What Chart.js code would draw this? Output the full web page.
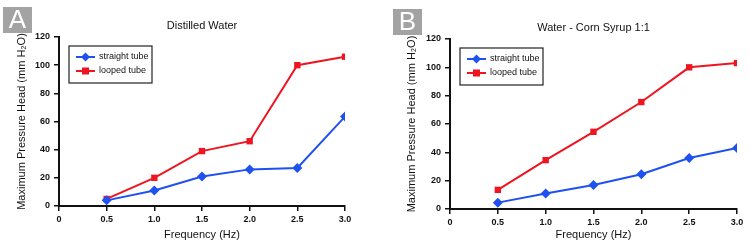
<!DOCTYPE html>
<html>
<head>
<meta charset="utf-8">
<script src="https://cdn.jsdelivr.net/npm/chart.js@4"></script>
<style>
  body { margin: 0; background: #fff; width: 750px; height: 248px; position: relative; overflow: hidden; }
  .box { position: absolute; top: 0; width: 375px; height: 248px; }
  #boxA { left: 0; }
  #boxB { left: 375px; }
</style>
</head>
<body>
<div class="box" id="boxA"><canvas id="chartA"></canvas></div>
<div class="box" id="boxB"><canvas id="chartB"></canvas></div>
<script>
// frequency (Hz)
const freq = [0.5, 1.0, 1.5, 2.0, 2.5, 3.0];
const xTicks = [0, 0.5, 1.0, 1.5, 2.0, 2.5, 3.0];
const yTicks = [0, 20, 40, 60, 80, 100, 120];

// A - distilled water
const straightA = [4, 11, 21, 26, 27, 63.5];
const loopedA = [5, 20, 39, 46, 100, 106];

// B - water / corn syrup 1:1
const straightB = [4.5, 11, 17, 24.5, 36, 43];
const loopedB = [13.5, 34.5, 54.5, 75.5, 100, 103];

const BLUE = "#1f50f0";
const RED = "#ee1520";
const FONT = "'Liberation Sans', Arial, Helvetica, sans-serif";

// draws the panel letter, the title and the boxed legend
const extras = {
    id: "extras",
    afterDraw(chart, args, opts) {
        const ctx = chart.ctx;
        const ca = chart.chartArea;
        ctx.save();

        // panel letter
        ctx.fillStyle = "#a3a3a3";
        ctx.fillRect(opts.letterX, opts.letterY, 29, 26);
        ctx.fillStyle = "#fff";
        ctx.font = "26px " + FONT;
        ctx.textAlign = "center";
        ctx.textBaseline = "middle";
        ctx.fillText(opts.letter, opts.letterX + 14.5, opts.letterY + 14);

        // title
        ctx.fillStyle = "#111";
        ctx.font = "11px " + FONT;
        ctx.textBaseline = "middle";
        ctx.fillText(opts.title, (ca.left + ca.right) / 2 + opts.titleShift, ca.top - 11);

        // legend
        const lx = ca.left + 10, ly = ca.top + 9, lw = 83, lh = 37;
        ctx.strokeStyle = "#222";
        ctx.lineWidth = 1.2;
        ctx.strokeRect(lx, ly, lw, lh);
        ctx.font = "9px " + FONT;
        ctx.textAlign = "left";
        chart.data.datasets.forEach((ds, i) => {
            const y = ly + 11 + i * 14;
            ctx.strokeStyle = ds.borderColor;
            ctx.lineWidth = 2;
            ctx.beginPath();
            ctx.moveTo(lx + 7, y);
            ctx.lineTo(lx + 26, y);
            ctx.stroke();
            ctx.fillStyle = ds.borderColor;
            if (ds.pointStyle === "rectRot") {
                ctx.beginPath();
                ctx.moveTo(lx + 16.5, y - 4.5);
                ctx.lineTo(lx + 21, y);
                ctx.lineTo(lx + 16.5, y + 4.5);
                ctx.lineTo(lx + 12, y);
                ctx.closePath();
                ctx.fill();
            } else {
                ctx.fillRect(lx + 13, y - 3.5, 7, 7);
            }
            ctx.fillStyle = "#111";
            ctx.fillText(ds.label, lx + 30, y);
        });
        ctx.restore();
    }
};

function makeChart(id, straight, looped, o) {
    const toXY = arr => arr.map((v, i) => ({ x: freq[i], y: v }));
    return new Chart(document.getElementById(id), {
        type: "line",
        data: {
            datasets: [
                {
                    label: "straight tube",
                    data: toXY(straight),
                    borderColor: BLUE,
                    backgroundColor: BLUE,
                    borderWidth: 2,
                    pointStyle: "rectRot",
                    pointRadius: 5,
                    pointBorderWidth: 0,
                    tension: 0
                },
                {
                    label: "looped tube",
                    data: toXY(looped),
                    borderColor: RED,
                    backgroundColor: RED,
                    borderWidth: 2,
                    pointStyle: "rect",
                    pointRadius: 4.5,
                    pointBorderWidth: 0,
                    tension: 0
                }
            ]
        },
        options: {
            responsive: false,
            animation: false,
            devicePixelRatio: 1,
            layout: { padding: { left: 0, right: o.right, top: o.top, bottom: 0 } },
            plugins: {
                legend: { display: false },
                tooltip: { enabled: false },
                title: { display: false },
                extras: o
            },
            scales: {
                x: {
                    type: "linear",
                    min: 0,
                    max: 3,
                    afterBuildTicks: s => { s.ticks = xTicks.map(v => ({ value: v })); },
                    afterFit: s => { s.height = o.xHeight; },
                    grid: { display: true, drawOnChartArea: false, drawTicks: true, tickLength: 5, color: "#111", lineWidth: 1.5 },
                    border: { display: true, color: "#111", width: 2 },
                    ticks: {
                        color: "#111",
                        font: { family: FONT, size: 9, weight: "bold" },
                        padding: 3,
                        maxRotation: 0,
                        callback: v => v === 0 ? "0" : v.toFixed(1)
                    },
                    title: {
                        display: true,
                        text: "Frequency (Hz)",
                        color: "#111",
                        font: { family: FONT, size: 11 },
                        padding: { top: 0, bottom: 6 }
                    }
                },
                y: {
                    min: 0,
                    max: 120,
                    afterBuildTicks: s => { s.ticks = yTicks.map(v => ({ value: v })); },
                    afterFit: s => { s.width = o.yWidth; },
                    grid: { display: true, drawOnChartArea: false, drawTicks: true, tickLength: 5, color: "#111", lineWidth: 1.5 },
                    border: { display: true, color: "#111", width: 2 },
                    ticks: {
                        color: "#111",
                        font: { family: FONT, size: 9, weight: "bold" },
                        padding: 4
                    },
                    title: {
                        display: true,
                        text: "Maximum Pressure Head (mm H₂O)",
                        color: "#111",
                        font: { family: FONT, size: 11 },
                        padding: { top: o.yTitlePad, bottom: 0 }
                    }
                }
            }
        },
        plugins: [extras]
    });
}

document.getElementById("chartA").width = 375;
document.getElementById("chartA").height = 248;
document.getElementById("chartB").width = 375;
document.getElementById("chartB").height = 248;

makeChart("chartA", straightA, loopedA, {
    letter: "A", letterX: 3, letterY: 7, title: "Distilled Water", titleShift: 0,
    right: 30, top: 37, xHeight: 42, yWidth: 59, yTitlePad: 15
});
makeChart("chartB", straightB, loopedB, {
    letter: "B", letterX: 18, letterY: 9, title: "Water - Corn Syrup 1:1", titleShift: 0,
    right: 13, top: 39, xHeight: 39, yWidth: 75, yTitlePad: 30
});
</script>
</body>
</html>
